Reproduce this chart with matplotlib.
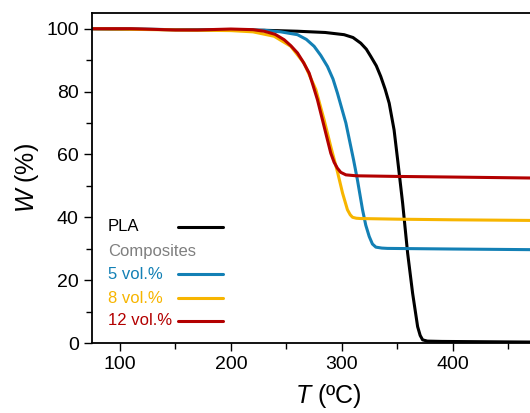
import matplotlib.pyplot as plt

plt.rcParams['font.family'] = ['Liberation Sans', 'DejaVu Sans']
plt.rcParams['mathtext.fontset'] = 'custom'
plt.rcParams['mathtext.it'] = 'Liberation Sans:italic'
plt.rcParams['mathtext.rm'] = 'Liberation Sans'

# TGA curves (T in degC, W in %)
pla_T = [75, 100, 150, 200, 230, 260, 285, 302, 310, 317, 322, 326, 331, 335, 339,
         342.6, 347, 350.2, 354.7, 359.2, 363.7, 368.2, 370.5, 372.7, 377, 390, 430, 470, 500]
pla_W = [100, 99.9, 99.7, 99.6, 99.5, 99.2, 98.8, 98.1, 97.2, 95.4, 93.5, 91.2, 88.2,
         84.8, 80.7, 76.3, 67.8, 58.3, 44.5, 28.6, 15.8, 5.2, 2.4, 1.0, 0.6, 0.5, 0.4, 0.3, 0.3]

c5_T = [75, 150, 200, 230, 245, 260, 268, 275, 281, 287, 292, 296, 303.6, 310.5,
        314, 318.6, 321.5, 324.6, 327.5, 330.6, 336, 341, 400, 470, 500]
c5_W = [100, 99.7, 99.6, 99.5, 99.0, 98.1, 96.6, 94.4, 91.5, 88.0, 84.0, 79.5, 70.0,
        58.3, 51.9, 42.4, 37.5, 33.9, 31.5, 30.5, 30.2, 30.1, 29.9, 29.7, 29.7]

c8_T = [75, 150, 200, 220, 239, 254, 266, 276.6, 284, 290, 296, 300.6, 305, 307.5,
        309.6, 313, 317, 350, 400, 470, 500]
c8_W = [100, 99.6, 99.4, 99.0, 97.6, 94.4, 89.0, 80.6, 71.0, 62.5, 54.5, 47.7, 42.4,
        40.8, 40.0, 39.7, 39.6, 39.4, 39.2, 39.0, 39.0]

c12_T = [75, 110, 150, 170, 200, 220, 230, 240, 248, 254, 260, 265, 270.5, 274, 278,
         284, 290, 293, 296, 299, 303.6, 313, 350, 400, 470, 500]
c12_W = [100, 100, 99.6, 99.6, 99.9, 99.7, 99.2, 98.2, 96.5, 94.6, 92.3, 89.5, 85.9,
         82.0, 77.4, 68.9, 60.4, 57.5, 55.6, 54.3, 53.5, 53.2, 53.0, 52.8, 52.5, 52.5]

labels = ['PLA', 'Composites', '5 vol.%', '8 vol.%', '12 vol.%']
colors = ['black', '#7f7f7f', '#1380b5', '#f7b500', '#b30000']

fig = plt.figure(figsize=(5.3, 4.13), dpi=100)
ax = fig.add_axes([92 / 530, 70 / 413, 472 / 530, 330 / 413])

ax.plot(pla_T, pla_W, color=colors[0], lw=2.2)
ax.plot(c5_T, c5_W, color=colors[2], lw=2.2)
ax.plot(c8_T, c8_W, color=colors[3], lw=2.2)
ax.plot(c12_T, c12_W, color=colors[4], lw=2.2)

ax.set_xlim(75, 500)
ax.set_ylim(0, 105)
ax.set_xticks([100, 200, 300, 400])
ax.set_xticks([150, 250, 350, 450], minor=True)
ax.set_yticks([0, 20, 40, 60, 80, 100])
ax.set_yticks([10, 30, 50, 70, 90], minor=True)
ax.tick_params(which='major', direction='out', length=6, width=1, labelsize=14,
               top=False, right=False)
ax.tick_params(which='minor', direction='out', length=4, width=1, top=False, right=False)
for s in ax.spines.values():
    s.set_linewidth(1.3)

ax.set_xlabel(r'$\mathit{T}$ (ºC)', fontsize=18, labelpad=6)
ax.set_ylabel(r'$\mathit{W}$ (%)', fontsize=18, labelpad=4)

# hand-made legend: text on the left, line sample on the right
text_y = [0.352, 0.276, 0.209, 0.136, 0.067]
for i, lab in enumerate(labels):
    ax.text(0.034, text_y[i], lab, color=colors[i], fontsize=12,
            transform=ax.transAxes, va='center', ha='left')
    if i != 1:
        ax.plot([0.183, 0.277], [text_y[i], text_y[i]], color=colors[i], lw=2.2,
                transform=ax.transAxes, solid_capstyle='round')

fig.savefig('out.png', dpi=100)
